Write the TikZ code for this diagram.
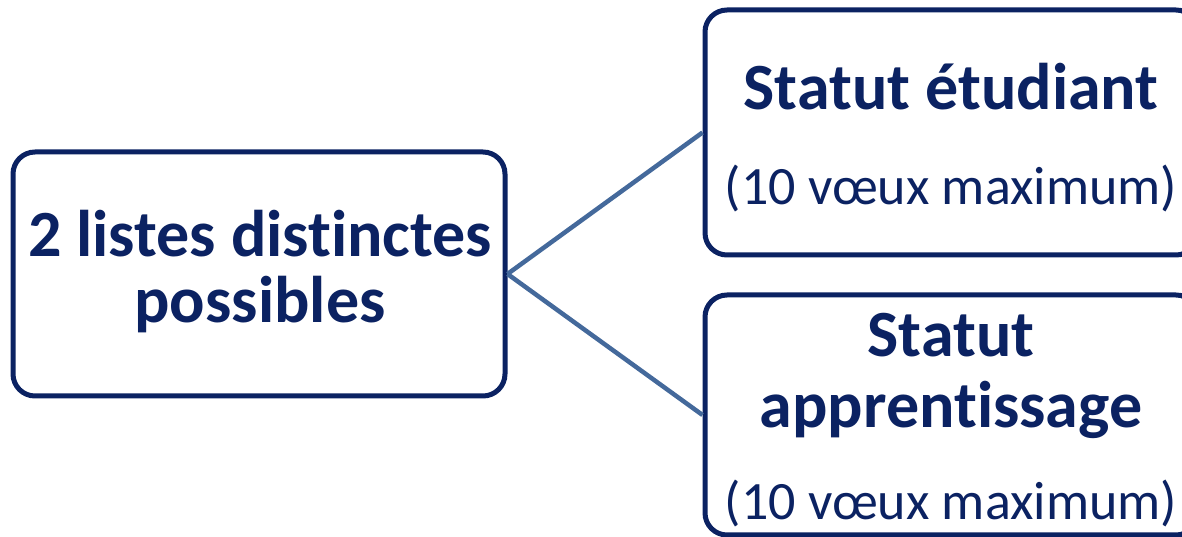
\documentclass[tikz,border=0pt]{standalone}
\usepackage{fontspec}
\setmainfont{Carlito}[Ligatures=NoCommon]
\usetikzlibrary{positioning}
\definecolor{navy}{HTML}{0B2262}
\definecolor{linkblue}{HTML}{44699B}
\begin{document}
\begin{tikzpicture}[x=1pt,y=1pt,
	box/.style={draw=navy,line width=5pt,rounded corners=22pt,fill=white,inner sep=0pt},
	big/.style={anchor=base,text=navy,inner sep=0pt,font=\fontsize{66}{70}\selectfont\bfseries},
	small/.style={anchor=base,text=navy,inner sep=0pt,font=\fontsize{54}{60}\selectfont}]
\useasboundingbox (0,0) rectangle (1182,537);
\clip (0,0) rectangle (1182,537);
\def\bw{493}
% the three boxes
\node[box,minimum width=492,minimum height=244] (liste) at (259,263) {};
\node[box,minimum width=\bw,minimum height=245] (etud) at (951.5,404.5) {};
\node[box,minimum width=\bw,minimum height=240] (appr) at (951.5,122) {};
\draw[linkblue,line width=4.5pt] (liste.east) -- (etud.west);
\draw[linkblue,line width=4.5pt] (liste.east) -- (appr.west);
% texts
\node[big] (l1) at (260,280) {2 listes distinctes};
\node[big] (l2) at (260,214) {possibles};
\node[big] (e1) at (951,427) {Statut étudiant};
\node[small] (e2) at (951,332) {(10 vœux maximum)};
\node[big] (a1) at (951,180) {Statut};
\node[big] (a2) at (951,109) {apprentissage};
\node[small] (a3) at (951,17) {(10 vœux maximum)};
\end{tikzpicture}
\end{document}
